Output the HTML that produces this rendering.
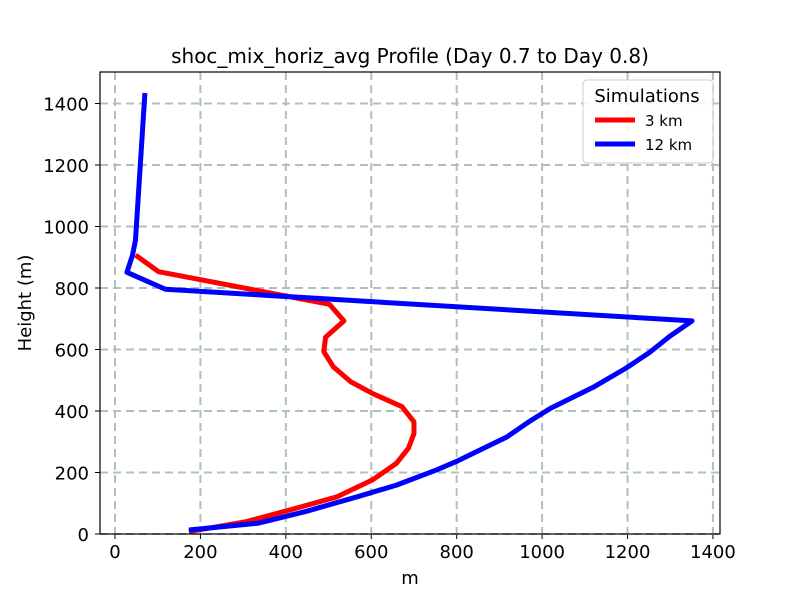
<!DOCTYPE html>
<html><head><meta charset="utf-8"><style>body{margin:0;background:#fff}svg{display:block;font-family:"DejaVu Sans","Liberation Sans",sans-serif}</style></head>
<body>
<svg id="chart" width="800" height="600"></svg>
<script>
const xTicks=[0,200,400,600,800,1000,1200,1400];
const yTicks=[0,200,400,600,800,1000,1200,1400];
const red3kmX=[173,307,409,520,603,659,687,700,700,672,603,552,511,489,493,536,502,102,48];
const red3kmY=[8,40,78,121,176,230,279,327,365,414,457,495,544,593,640,693,747,853,907];
const blue12kmX=[173,335,446,567,659,752,798,863,918,969,1020,1122,1196,1252,1298,1351,118,28,41,48,70];
const blue12kmY=[13,35,73,121,159,208,235,279,316,365,409,479,539,591,642,693,796,851,907,956,1434];
const NS='http://www.w3.org/2000/svg';
const svg=document.getElementById('chart');
const L=100,R=720,T=72,B=534;
const xs=v=>115+v*0.4271;
const ys=v=>534-v*0.3075;
function mk(t,a,p){const e=document.createElementNS(NS,t);for(const k in a)e.setAttribute(k,a[k]);(p||svg).appendChild(e);return e;}
xTicks.forEach(v=>{const g=mk('line',{x1:xs(v),x2:xs(v),y1:T,y2:B,stroke:'#b0c0c0','stroke-width':2,'stroke-dasharray':'8,5'});

const tk=mk('line',{x1:xs(v),x2:xs(v),y1:B,y2:B+5,stroke:'#000'});
const t=mk('text',{x:xs(v),y:B+24,'text-anchor':'middle','font-size':18});t.textContent=v;
});
yTicks.forEach(v=>{const g=mk('line',{x1:L,x2:R,y1:ys(v),y2:ys(v),stroke:'#b0c0c0','stroke-width':2,'stroke-dasharray':'8,5'});

const tk=mk('line',{x1:L-5,x2:L,y1:ys(v),y2:ys(v),stroke:'#000'});
const t=mk('text',{x:L-11,y:ys(v)+7,'text-anchor':'end','font-size':18});t.textContent=v;
});
function series(X,Y,c,n){const p=mk('polyline',{points:X.map((x,i)=>xs(x)+','+ys(Y[i])).join(' '),fill:'none',stroke:c,'stroke-width':5,'stroke-linejoin':'round'});
}
series(red3kmX,red3kmY,'#ff0000','series-3km');
series(blue12kmX,blue12kmY,'#0000ff','series-12km');
const fr=mk('rect',{x:L,y:T,width:R-L,height:B-T,fill:'none',stroke:'#000','stroke-width':1.2});

</script>
<svg style="position:absolute;left:0;top:0" width="800" height="600">
<text x="410" y="63" text-anchor="middle" font-size="20">shoc_mix_horiz_avg Profile (Day 0.7 to Day 0.8)</text>
<text x="410" y="584" text-anchor="middle" font-size="18">m</text>
<text transform="translate(31,303) rotate(-90)" text-anchor="middle" font-size="18">Height (m)</text>
<g>
<rect x="583" y="80" width="130" height="83" rx="4" fill="#fff" fill-opacity="0.85" stroke="#ccc"/>
<text x="647" y="102" text-anchor="middle" font-size="18">Simulations</text>
<line x1="595" y1="120" x2="635" y2="120" stroke="#ff0000" stroke-width="5"/>
<text x="645" y="126" font-size="15">3 km</text>
<line x1="595" y1="144" x2="635" y2="144" stroke="#0000ff" stroke-width="5"/>
<text x="645" y="150" font-size="15">12 km</text>
</g>
</svg>
</body></html>
